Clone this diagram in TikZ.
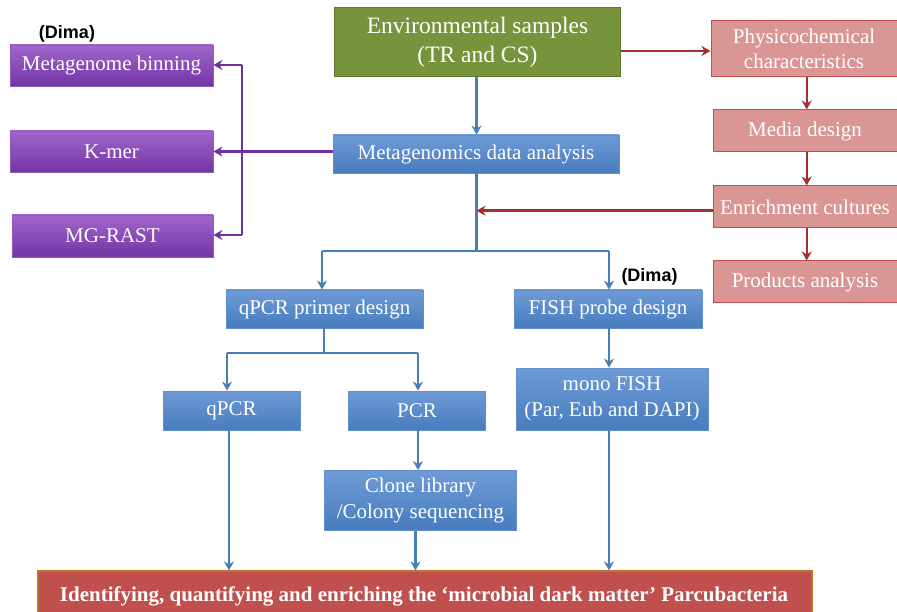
\documentclass[tikz,border=0pt]{standalone}
\usepackage{fontspec}
\setmainfont{Liberation Serif}
\newfontfamily\arialf{Liberation Sans}
\usetikzlibrary{arrows.meta}
\definecolor{grn}{HTML}{77933C}
\definecolor{grnd}{HTML}{5E7530}
\definecolor{pnk}{HTML}{D99694}
\definecolor{pnkd}{HTML}{C0504D}
\definecolor{blt}{HTML}{6E9BD6}
\definecolor{bld}{HTML}{477CBE}
\definecolor{blline}{HTML}{4A7EBB}
\definecolor{pul}{HTML}{A066CA}
\definecolor{pud}{HTML}{7434A6}
\definecolor{puline}{HTML}{7030A0}
\definecolor{redline}{HTML}{A3302C}
\definecolor{fin}{HTML}{C0504D}
\definecolor{find}{HTML}{C8702A}
\tikzset{
  box/.style={inner sep=0pt, align=center, text=white, font=\fontsize{21}{25.5}\selectfont},
  bluebox/.style={box, top color=blt, bottom color=bld, draw=bld!85!white, line width=0.8pt},
  purbox/.style={box, top color=pul, bottom color=pud, draw=pud!80!white, line width=0.8pt},
  pinkbox/.style={box, fill=pnk, draw=pnkd, line width=1pt},
  greenbox/.style={box, fill=grn, draw=grnd, line width=1pt, font=\fontsize{23.5}{28.5}\selectfont},
  finbox/.style={box, fill=fin, draw=find, line width=1.2pt},
  tip/.style={-{Stealth[length=9pt,width=10pt]}},
  barr/.style={draw=blline, line width=2.4pt, tip},
  bline/.style={draw=blline, line width=2.4pt},
  rarr/.style={draw=redline, line width=2.4pt, tip},
  parr/.style={draw=puline, line width=2.4pt, tip},
  pline/.style={draw=puline, line width=2.4pt},
  dima/.style={inner sep=0pt, font=\arialf\bfseries\fontsize{18}{20}\selectfont, text=black}
}
\begin{document}
\begin{tikzpicture}[x=1pt,y=-1pt]
\useasboundingbox (0,0) rectangle (897,612);
\begin{scope}
\clip (0,0) rectangle (897,612);
% nodes
\node[greenbox, minimum width=286pt, minimum height=69pt] (env) at (477.5,42.5) {Environmental samples\\(TR and CS)};
\node[pinkbox, minimum width=186pt, minimum height=56pt] (phys) at (804,49) {Physicochemical\\characteristics};
\node[pinkbox, minimum width=184pt, minimum height=42pt] (media) at (805,131) {Media design};
\node[pinkbox, minimum width=184pt, minimum height=42pt] (enr) at (805,207) {Enrichment cultures};
\node[pinkbox, minimum width=184pt, minimum height=42pt] (prod) at (805,282) {Products analysis};
\node[bluebox, minimum width=286pt, minimum height=38pt] (meta) at (476,154) {Metagenomics data analysis};
\node[purbox, minimum width=203pt, minimum height=41pt] (bin) at (111.5,65.5) {Metagenome binning};
\node[purbox, minimum width=203pt, minimum height=41pt] (kmer) at (111.5,151.5) {K-mer};
\node[purbox, minimum width=201pt, minimum height=42pt] (mgr) at (112.5,236) {MG-RAST};
\node[bluebox, minimum width=197pt, minimum height=38pt] (qpd) at (324.5,309) {qPCR primer design};
\node[bluebox, minimum width=188pt, minimum height=38pt] (fpd) at (608,309) {FISH probe design};
\node[bluebox, minimum width=137pt, minimum height=39pt] (qpcr) at (231.5,410.5) {qPCR};
\node[bluebox, minimum width=137pt, minimum height=39pt] (pcr) at (417,410.5) {PCR};
\node[bluebox, minimum width=192pt, minimum height=62pt] (mono) at (612,399) {mono FISH\\(Par, Eub and DAPI)};
\node[bluebox, minimum width=192pt, minimum height=60pt] (clone) at (420.5,500.5) {Clone library\\/Colony sequencing};
\node[finbox, minimum width=774pt, minimum height=46pt] (final) at (425,594) {};
\node[inner sep=0pt, text=white, anchor=base, font=\bfseries\fontsize{21}{24}\selectfont] (finaltext) at (424,601) {Identifying, quantifying and enriching the ‘microbial dark matter’ Parcubacteria};
\node[dima] (dima1) at (67,34) {(Dima)};
\node[dima] (dima2) at (649.5,277) {(Dima)};
% coordinates
\coordinate (j1) at (476.5,210.7);
\coordinate (j2) at (476.5,251);
\coordinate (jl) at (322,251);
\coordinate (jr) at (609,251);
\coordinate (k1) at (324,353);
\coordinate (kl) at (227,353);
\coordinate (kr) at (418,353);
\coordinate (pt) at (242,65);
\coordinate (pb) at (242,235);
% blue connectors
\draw[barr] (env.south -| 476.5,0) -- (meta.north -| 476.5,0);
\draw[bline] (meta.south -| j2) -- (j2);
\draw[bline] (jl) -- (jr);
\draw[barr] (jl) -- (jl |- qpd.north);
\draw[barr] (jr) -- (jr |- fpd.north);
\draw[bline] (qpd.south -| k1) -- (k1);
\draw[bline] (kl) -- (kr);
\draw[barr] (kl) -- (kl |- qpcr.north);
\draw[barr] (kr) -- (kr |- pcr.north);
\draw[barr] (qpcr.south -| 229,0) -- (final.north -| 229,0);
\draw[barr] (pcr.south -| 418,0) -- (clone.north -| 418,0);
\draw[barr] (clone.south -| 415.5,0) -- (final.north -| 415.5,0);
\draw[barr] (fpd.south -| 609,0) -- (mono.north -| 609,0);
\draw[barr] (mono.south -| 609,0) -- (final.north -| 609,0);
% red connectors
\draw[rarr] (env.east |- 0,51) -- (phys.west |- 0,51);
\draw[rarr] (phys.south -| 806.7,0) -- (media.north -| 806.7,0);
\draw[rarr] (media.south -| 806.7,0) -- (enr.north -| 806.7,0);
\draw[rarr] (enr.south -| 806.7,0) -- (prod.north -| 806.7,0);
\draw[rarr] (enr.west |- j1) -- (j1);
% purple connectors
\draw[parr] (meta.west |- kmer) -- (kmer.east);
\draw[pline] (pt) -- (pb);
\draw[parr] (pt) -- (bin.east |- pt);
\draw[parr] (pb) -- (mgr.east |- pb);
\end{scope}
\end{tikzpicture}
\end{document}
